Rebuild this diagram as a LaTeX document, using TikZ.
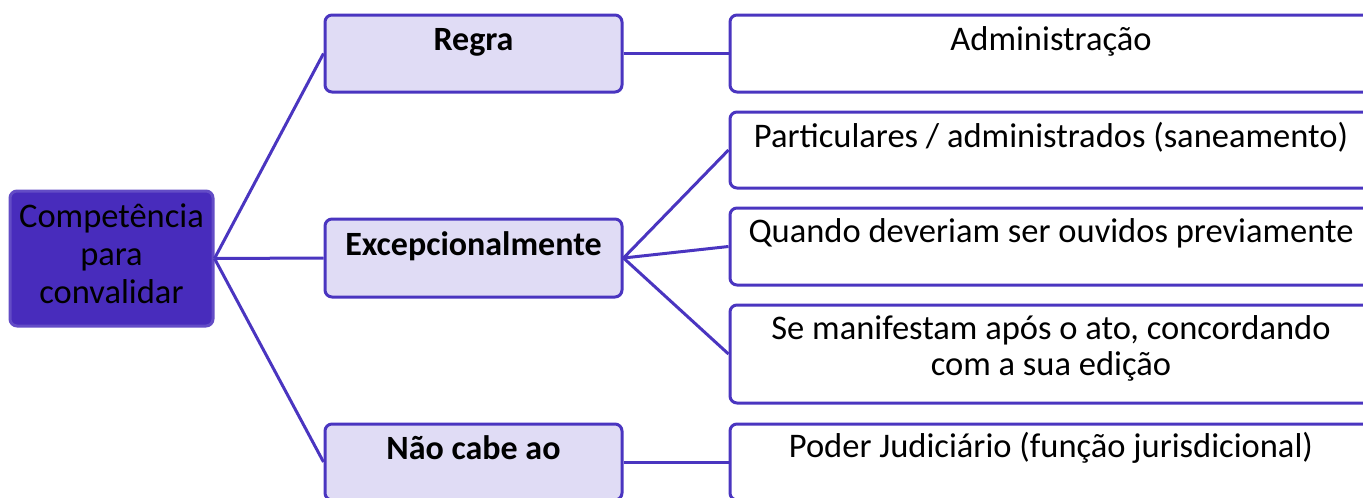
\documentclass[tikz,border=0pt]{standalone}
\usepackage{fontspec}
\setmainfont{Carlito}
\definecolor{edge}{HTML}{4A35C0}
\definecolor{rootfill}{HTML}{482CBC}
\definecolor{midfill}{HTML}{E0DCF5}
\tikzset{
  box/.style={draw=edge, line width=3pt, rounded corners=7pt, inner sep=0pt},
  rootbox/.style={box, fill=rootfill, draw=rootfill!85!white},
  midbox/.style={box, fill=midfill},
  leafbox/.style={box, fill=white},
  conn/.style={draw=edge, line width=3pt},
  lbl/.style={inner sep=0pt, align=center, font=\fontsize{34.5}{36}\selectfont},
  blbl/.style={inner sep=0pt, align=center, font=\fontsize{34}{36}\selectfont\bfseries},
}
\begin{document}
\begin{tikzpicture}[x=1pt,y=-1pt]
\useasboundingbox (0,0) rectangle (1363,498);
\clip (0,0) rectangle (1363,498);
% root
\node[rootbox, minimum width=203pt, minimum height=135pt] (root) at (111.5,258.5) {};
\node[lbl, font=\fontsize{34.5}{38}\selectfont] (roott) at (111.5,254) {Competência\\para\\convalidar};
% middle
\node[midbox, minimum width=297pt, minimum height=77pt] (regra) at (473.5,53.5) {};
\node[blbl] (regrat) at (473.5,42) {Regra};
\node[midbox, minimum width=297pt, minimum height=78pt] (exc) at (473.5,258) {};
\node[blbl] (exct) at (473.5,246) {Excepcionalmente};
\node[midbox, minimum width=297pt, minimum height=76pt] (nao) at (473.5,462) {};
\node[blbl] (naot) at (473.5,448) {Não cabe ao};
% leaves
\node[leafbox, minimum width=660pt, minimum height=77pt] (adm) at (1060,53.5) {};
\node[lbl] (admt) at (1051,41) {Administração};
\node[leafbox, minimum width=660pt, minimum height=76pt] (part) at (1060,150) {};
\node[lbl] (partt) at (1051,137) {Particulares / administrados (saneamento)};
\node[leafbox, minimum width=660pt, minimum height=77pt] (quan) at (1060,246.5) {};
\node[lbl] (quant) at (1051,233) {Quando deveriam ser ouvidos previamente};
\node[leafbox, minimum width=660pt, minimum height=98pt] (se) at (1060,354) {};
\node[lbl] (set) at (1051,348) {Se manifestam após o ato, concordando\\com a sua edição};
\node[leafbox, minimum width=660pt, minimum height=76pt] (pod) at (1060,462) {};
\node[lbl] (podt) at (1051,448) {Poder Judiciário (função jurisdicional)};
% connectors
\draw[conn] (root.east) -- (regra.west);
\draw[conn] (root.east) -- (exc.west);
\draw[conn] (root.east) -- (nao.west);
\draw[conn] (regra.east) -- (adm.west);
\draw[conn] (exc.east) -- (part.west);
\draw[conn] (exc.east) -- (quan.west);
\draw[conn] (exc.east) -- (se.west);
\draw[conn] (nao.east) -- (pod.west);
\end{tikzpicture}
\end{document}
